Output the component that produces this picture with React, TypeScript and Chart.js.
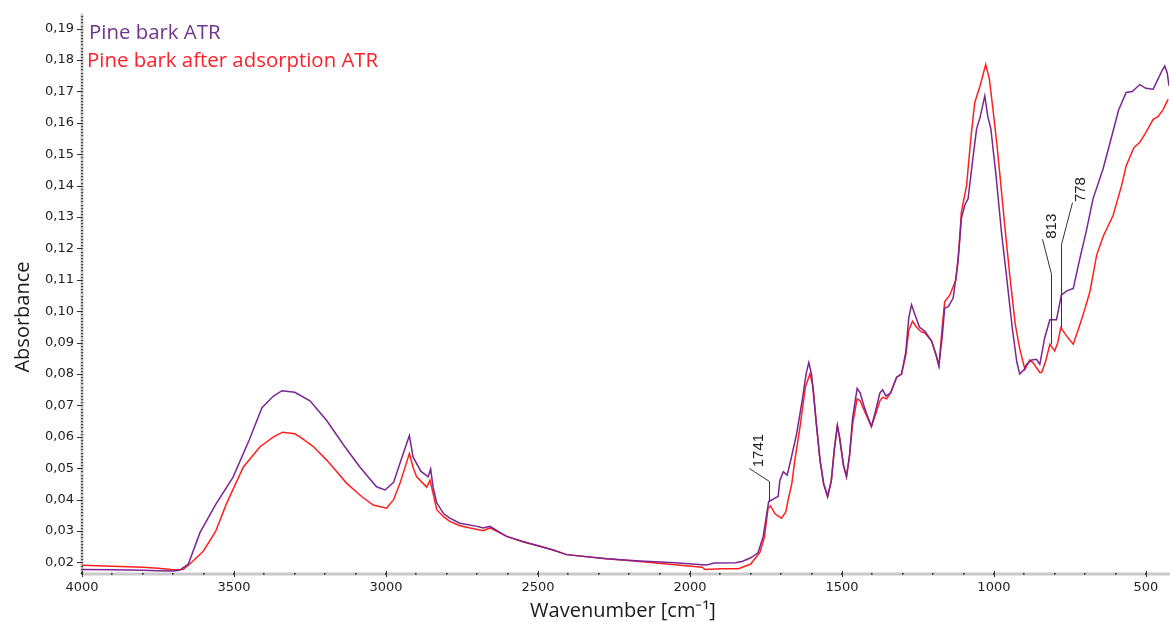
import React, { useEffect, useRef } from 'react';
import { Chart, registerables } from 'chart.js';

Chart.register(...registerables);

// ---- data ----
const seriesLabels = ['Pine bark ATR', 'Pine bark after adsorption ATR'];

const purpleWavenumbers = [
  4000, 3900, 3800, 3750, 3700, 3680, 3650, 3612, 3560, 3503, 3450, 3408, 3370, 3342, 3300, 3250, 3195, 3140,
  3086, 3031, 3003, 2975, 2954, 2935, 2923, 2911, 2885, 2861, 2853, 2845, 2833, 2810, 2790, 2757, 2700, 2680,
  2658, 2603, 2550, 2494, 2450, 2406, 2274, 2165, 2050, 1960, 1945, 1920, 1850, 1826, 1800, 1776, 1759, 1741,
  1720, 1710, 1704, 1693, 1680, 1666, 1649, 1630, 1618, 1609, 1600, 1585, 1572, 1560, 1547, 1535, 1525, 1515,
  1508, 1495, 1485, 1475, 1465, 1450, 1440, 1425, 1403, 1390, 1375, 1366, 1355, 1340, 1320, 1304, 1290, 1280,
  1271, 1260, 1245, 1227, 1205, 1190, 1181, 1170, 1162, 1150, 1134, 1118, 1107, 1095, 1085, 1070, 1057, 1045,
  1030, 1020, 1010, 993, 975, 959, 940, 925, 915, 900, 893, 875, 860, 849, 833, 816, 794, 778, 760, 739, 717,
  695, 674, 641, 612, 590, 565, 545, 520, 500, 476, 460, 445, 438, 430, 424,
];
const purpleAbsorbance = [
  0.0178, 0.0177, 0.0175, 0.0174, 0.0173, 0.0175, 0.0195, 0.0295, 0.0385, 0.0472, 0.059, 0.0693, 0.073, 0.0747,
  0.0742, 0.0715, 0.0652, 0.0575, 0.0504, 0.0441, 0.0431, 0.0455, 0.0516, 0.057, 0.0604, 0.0536, 0.049, 0.0473,
  0.0498, 0.044, 0.039, 0.0355, 0.0341, 0.0325, 0.0315, 0.031, 0.0315, 0.0283, 0.0267, 0.0252, 0.024, 0.0225,
  0.0212, 0.0205, 0.0199, 0.0193, 0.0192, 0.0198, 0.0199, 0.0204, 0.0215, 0.0231, 0.0283, 0.0394, 0.0405,
  0.041, 0.0462, 0.0489, 0.0478, 0.0536, 0.061, 0.072, 0.08, 0.0837, 0.08, 0.065, 0.0525, 0.045, 0.041, 0.046,
  0.056, 0.0636, 0.06, 0.051, 0.0473, 0.054, 0.066, 0.0754, 0.074, 0.069, 0.0633, 0.068, 0.074, 0.075, 0.073,
  0.074, 0.079, 0.08, 0.087, 0.098, 0.1021, 0.099, 0.095, 0.0936, 0.0905, 0.086, 0.0826, 0.092, 0.101, 0.1015,
  0.1042, 0.1158, 0.1296, 0.134, 0.1358, 0.148, 0.1581, 0.162, 0.1686, 0.162, 0.1581, 0.1431, 0.125, 0.1116,
  0.095, 0.084, 0.08, 0.0815, 0.0831, 0.0845, 0.0847, 0.0831, 0.0915, 0.0973, 0.0973, 0.1052, 0.1065, 0.1073,
  0.1169, 0.126, 0.1358, 0.1453, 0.1559, 0.164, 0.1697, 0.17, 0.1722, 0.171, 0.1707, 0.174, 0.177, 0.1781,
  0.176, 0.1718,
];

const redWavenumbers = [
  4000, 3900, 3800, 3750, 3700, 3667, 3640, 3601, 3560, 3524, 3469, 3415, 3370, 3340, 3300, 3283, 3240, 3195,
  3129, 3080, 3042, 2998, 2975, 2954, 2935, 2923, 2910, 2899, 2866, 2855, 2845, 2833, 2810, 2790, 2757, 2700,
  2680, 2658, 2603, 2550, 2494, 2450, 2406, 2274, 2165, 2050, 1960, 1950, 1900, 1840, 1800, 1770, 1755, 1743,
  1735, 1720, 1699, 1685, 1677, 1665, 1655, 1638, 1620, 1605, 1595, 1585, 1572, 1560, 1547, 1535, 1525, 1515,
  1508, 1495, 1485, 1475, 1465, 1450, 1440, 1425, 1403, 1390, 1375, 1366, 1353, 1340, 1320, 1304, 1290, 1280,
  1268, 1255, 1240, 1227, 1205, 1190, 1181, 1170, 1162, 1145, 1125, 1115, 1107, 1090, 1075, 1063, 1045, 1027,
  1015, 1003, 990, 980, 965, 948, 930, 915, 898, 882, 870, 860, 849, 843, 830, 816, 800, 790, 780, 760, 739,
  717, 700, 684, 662, 640, 608, 580, 565, 540, 520, 500, 476, 460, 443, 427,
];
const redAbsorbance = [
  0.0191, 0.0188, 0.0185, 0.0182, 0.0177, 0.0178, 0.02, 0.0236, 0.03, 0.0389, 0.0504, 0.0568, 0.06, 0.0615,
  0.061, 0.06, 0.057, 0.0526, 0.0452, 0.041, 0.0383, 0.0373, 0.04, 0.0452, 0.051, 0.0547, 0.05, 0.0473, 0.044,
  0.0462, 0.042, 0.0368, 0.0345, 0.0331, 0.0317, 0.0305, 0.0301, 0.031, 0.0283, 0.0266, 0.0252, 0.024, 0.0225,
  0.0212, 0.0203, 0.0193, 0.0185, 0.0178, 0.018, 0.018, 0.0195, 0.0232, 0.028, 0.0373, 0.038, 0.0355, 0.0341,
  0.036, 0.0399, 0.045, 0.0525, 0.0631, 0.076, 0.0801, 0.076, 0.065, 0.0525, 0.045, 0.041, 0.046, 0.056,
  0.0636, 0.06, 0.051, 0.0473, 0.054, 0.064, 0.0721, 0.0715, 0.068, 0.0633, 0.067, 0.0715, 0.0726, 0.0721,
  0.074, 0.079, 0.08, 0.086, 0.094, 0.0968, 0.095, 0.0935, 0.0931, 0.0905, 0.086, 0.0826, 0.095, 0.103,
  0.1052, 0.11, 0.12, 0.1317, 0.14, 0.156, 0.1665, 0.172, 0.1786, 0.174, 0.1642, 0.153, 0.1431, 0.128,
  0.1116, 0.096, 0.088, 0.0815, 0.0845, 0.0835, 0.082, 0.0805, 0.0805, 0.084, 0.0895, 0.0874, 0.09, 0.0948,
  0.092, 0.0895, 0.0958, 0.101, 0.1063, 0.1179, 0.124, 0.1305, 0.14, 0.1463, 0.152, 0.1538, 0.157, 0.1611,
  0.162, 0.1643, 0.1675,
];

const xTickValues = [4000, 3500, 3000, 2500, 2000, 1500, 1000, 500];
const yTickValues = [
  0.02, 0.03, 0.04, 0.05, 0.06, 0.07, 0.08, 0.09, 0.1, 0.11, 0.12, 0.13, 0.14, 0.15, 0.16, 0.17, 0.18, 0.19,
];

const peakLabels = ['1741', '813', '778'];
const peakWavenumbers = [1741, 813, 778];
const peakAbsorbance = [0.0394, 0.0895, 0.0948];

// ---- styles ----
const PURPLE = '#7b2592';
const RED = '#ff1f1f';
const PURPLE_TEXT = '#71348c';
const RED_TEXT = '#ff1f2a';
const TITLE_FONT = '"Open Sans", sans-serif';
const TICK_FONT = '"DejaVu Sans", sans-serif';
const X_MIN = 424;
const X_MAX = 4000;
const Y_MIN = 0.01665;
const Y_MAX = 0.1941;
const leaderStyles = [
  { up: 20, dx: -20, dy: -33, tx: -11, ty: -51 },
  { up: 70, dx: -9, dy: -105, tx: 0, ty: -118 },
  { up: 83, dx: 11, dy: -125, tx: 19, ty: -138 },
];

const toPoints = (xs: number[], ys: number[]) => xs.map((x, i) => ({ x, y: ys[i] }));

const axesPlugin = {
  id: 'spectrumAxes',
  beforeDatasetsDraw(chart: any) {
    const { ctx, chartArea, scales } = chart;
    const xs = scales.x;
    const ys = scales.y;
    const axisY = chartArea.bottom + 1;
    const axisX = chartArea.left;
    ctx.save();
    ctx.strokeStyle = '#c9c9c9';
    ctx.lineWidth = 3;
    ctx.beginPath();
    ctx.moveTo(axisX, axisY);
    ctx.lineTo(chart.width, axisY);
    ctx.moveTo(axisX, chartArea.top - 2);
    ctx.lineTo(axisX, axisY);
    ctx.stroke();
    ctx.fillStyle = '#222';
    for (let v = 500; v <= 4000; v += 100) {
      const px = xs.getPixelForValue(v);
      ctx.fillRect(Math.round(px) - 1, axisY - 1, 1.6, 1.6);
    }
    for (let k = 17; k <= 194; k += 1) {
      const py = ys.getPixelForValue(k / 1000);
      ctx.fillRect(axisX - 0.8, Math.round(py), 1.6, 1.2);
    }
    ctx.strokeStyle = '#333';
    ctx.lineWidth = 1;
    ctx.beginPath();
    xTickValues.forEach((v) => {
      const px = Math.round(xs.getPixelForValue(v)) + 0.5;
      ctx.moveTo(px, axisY - 3);
      ctx.lineTo(px, axisY + 3);
    });
    yTickValues.forEach((v) => {
      const py = Math.round(ys.getPixelForValue(v)) + 0.5;
      ctx.moveTo(axisX - 5, py);
      ctx.lineTo(axisX, py);
    });
    ctx.stroke();
    ctx.restore();
  },
  afterDraw(chart: any) {
    const { ctx, scales } = chart;
    ctx.save();
    // legend text
    ctx.font = `20.4px ${TITLE_FONT}`;
    ctx.textAlign = 'left';
    ctx.textBaseline = 'alphabetic';
    ctx.fillStyle = PURPLE_TEXT;
    ctx.fillText(seriesLabels[0], 89, 39);
    ctx.fillStyle = RED_TEXT;
    ctx.fillText(seriesLabels[1], 87, 67);
    // axis titles
    ctx.font = `20px ${TITLE_FONT}`;
    ctx.fillStyle = '#1a1a1a';
    ctx.textAlign = 'center';
    ctx.fillText('Wavenumber [cm\u207B\u00B9]', 623, 617);
    ctx.translate(29, 317);
    ctx.rotate(-Math.PI / 2);
    ctx.fillText('Absorbance', 0, 0);
    ctx.restore();

    // peak annotations
    ctx.save();
    ctx.strokeStyle = '#333';
    ctx.fillStyle = '#222';
    ctx.lineWidth = 1;
    ctx.font = `15px "Liberation Sans", sans-serif`;
    peakLabels.forEach((label, i) => {
      const bx = Math.round(scales.x.getPixelForValue(peakWavenumbers[i])) + 0.5;
      const by = scales.y.getPixelForValue(peakAbsorbance[i]);
      const s = leaderStyles[i];
      ctx.beginPath();
      ctx.moveTo(bx, by);
      ctx.lineTo(bx, by - s.up);
      ctx.lineTo(bx + s.dx, by + s.dy);
      ctx.stroke();
      ctx.save();
      ctx.translate(bx + s.tx, by + s.ty);
      ctx.rotate(-Math.PI / 2);
      ctx.textAlign = 'center';
      ctx.textBaseline = 'middle';
      ctx.fillText(label, 0, 0);
      ctx.restore();
    });
    ctx.restore();
  },
};

export default function App() {
  const canvasRef = useRef<HTMLCanvasElement | null>(null);

  useEffect(() => {
    if (!canvasRef.current) return;
    const chart = new Chart(canvasRef.current, {
      type: 'line',
      data: {
        datasets: [
          {
            label: seriesLabels[0],
            data: toPoints(purpleWavenumbers, purpleAbsorbance),
            borderColor: PURPLE,
            backgroundColor: PURPLE,
            borderWidth: 1.5,
            pointRadius: 0,
            tension: 0,
          },
          {
            label: seriesLabels[1],
            data: toPoints(redWavenumbers, redAbsorbance),
            borderColor: RED,
            backgroundColor: RED,
            borderWidth: 1.5,
            pointRadius: 0,
            tension: 0,
          },
        ],
      },
      options: {
        animation: false,
        responsive: false,
        maintainAspectRatio: false,
        layout: { padding: { left: 0, right: 1, top: 12, bottom: 0 } },
        plugins: { legend: { display: false }, tooltip: { enabled: false } },
        scales: {
          x: {
            type: 'linear',
            reverse: true,
            min: X_MIN,
            max: X_MAX,
            afterFit: (s: any) => {
              s.height = 49;
            },
            afterBuildTicks: (s: any) => {
              s.ticks = xTickValues.map((v) => ({ value: v }));
            },
            grid: { display: false, drawTicks: false },
            border: { display: false },
            ticks: {
              padding: 7,
              autoSkip: false,
              maxRotation: 0,
              color: '#222',
              font: { family: TICK_FONT, size: 13 },
              callback: (v: any) => String(v),
            },
          },
          y: {
            type: 'linear',
            min: Y_MIN,
            max: Y_MAX,
            afterFit: (s: any) => {
              s.width = 82;
            },
            afterBuildTicks: (s: any) => {
              s.ticks = yTickValues.map((v) => ({ value: v }));
            },
            grid: { display: false, drawTicks: false },
            border: { display: false },
            ticks: {
              padding: 8,
              autoSkip: false,
              color: '#222',
              font: { family: TICK_FONT, size: 13 },
              callback: (v: any) => Number(v).toFixed(2).replace('.', ','),
            },
          },
        },
      },
      plugins: [axesPlugin],
    });
    return () => chart.destroy();
  }, []);

  return (
    <div style={{ position: 'fixed', left: 0, top: 0, width: 1170, height: 622, background: '#fff' }}>
      <canvas ref={canvasRef} width={1170} height={622} style={{ display: 'block' }} />
    </div>
  );
}
